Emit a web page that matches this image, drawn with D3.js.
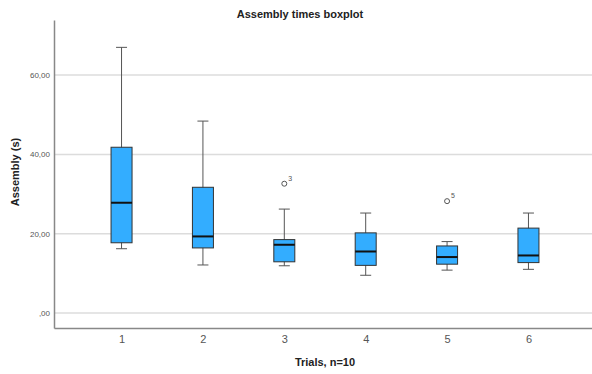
<!DOCTYPE html>
<html>
<head>
<meta charset="utf-8">
<script src="https://cdn.jsdelivr.net/npm/d3@7"></script>
<style>
  body { margin: 0; background: #fff; }
  text { font-family: Arial, "Liberation Sans", sans-serif; }
</style>
</head>
<body>
<div id="svg-area"></div>
<script>
// Box stats, one entry per trial
var trials = ["1", "2", "3", "4", "5", "6"];
var whiskerLow = [16.2, 12.1, 11.9, 9.5, 10.8, 11.0];
var q1 = [17.7, 16.4, 12.9, 12.0, 12.3, 12.7];
var median = [27.8, 19.3, 17.2, 15.5, 14.1, 14.5];
var q3 = [41.8, 31.7, 18.5, 20.2, 16.9, 21.4];
var whiskerHigh = [67.0, 48.4, 26.2, 25.2, 18.0, 25.2];

// outliers: trial, value, case label
var outlierTrial = ["3", "5"];
var outlierValue = [32.6, 28.2];
var outlierLabel = ["3", "5"];

var yTicks = [0, 20, 40, 60];

var svgWidth = 592;
var svgHeight = 374;

var chartMargin = { top: 20, right: -4, bottom: 46, left: 54 };
var chartWidth = svgWidth - chartMargin.left - chartMargin.right;
var chartHeight = svgHeight - chartMargin.top - chartMargin.bottom;

var svg = d3.select("#svg-area")
  .append("svg")
  .attr("width", svgWidth)
  .attr("height", svgHeight);

var chartGroup = svg.append("g")
  .attr("transform", `translate(${chartMargin.left}, ${chartMargin.top})`);

var xScale = d3.scalePoint()
  .domain(trials)
  .range([0, chartWidth])
  .padding(0.83);

// zero sits at y=313, 60 at y=75
var yScale = d3.scaleLinear()
  .domain([-3.8, 73.9])
  .range([chartHeight, 0]);

// gridlines
chartGroup.selectAll(".grid")
  .data(yTicks)
  .enter()
  .append("line")
  .attr("x1", 0)
  .attr("x2", chartWidth)
  .attr("y1", d => yScale(d))
  .attr("y2", d => yScale(d))
  .attr("stroke", "#dcdcdc")
  .attr("stroke-width", 1.5);

// y axis
var leftAxis = d3.axisLeft(yScale)
  .tickValues(yTicks)
  .tickSize(0)
  .tickPadding(4)
  .tickFormat(d => d === 0 ? ",00" : d3.format(".2f")(d).replace(".", ","));

var yAxisG = chartGroup.append("g").call(leftAxis);
yAxisG.select(".domain").attr("stroke", "#888").attr("stroke-width", 1.5);
yAxisG.selectAll("text")
  .attr("fill", "#555")
  .style("font-size", "8px");

// x axis
var bottomAxis = d3.axisBottom(xScale).tickSize(0).tickPadding(7);
var xAxisG = chartGroup.append("g")
  .attr("transform", `translate(0, ${chartHeight})`)
  .call(bottomAxis);
xAxisG.select(".domain").attr("stroke", "#888").attr("stroke-width", 1.5);
xAxisG.selectAll("text")
  .attr("fill", "#555")
  .style("font-size", "11px");

var boxWidth = 21;
var capWidth = 11;

var boxes = trials.map(function(t, i) {
  return { trial: t, lo: whiskerLow[i], q1: q1[i], med: median[i], q3: q3[i], hi: whiskerHigh[i] };
});

var boxG = chartGroup.selectAll(".box")
  .data(boxes)
  .enter()
  .append("g")
  .attr("class", "box")
  .attr("transform", d => `translate(${xScale(d.trial)}, 0)`);

// whisker stems
boxG.append("line")
  .attr("x1", 0).attr("x2", 0)
  .attr("y1", d => yScale(d.hi))
  .attr("y2", d => yScale(d.lo))
  .attr("stroke", "#555")
  .attr("stroke-width", 1);

// caps
boxG.selectAll(".cap")
  .data(d => [d.lo, d.hi])
  .enter()
  .append("line")
  .attr("x1", -capWidth / 2).attr("x2", capWidth / 2)
  .attr("y1", d => yScale(d))
  .attr("y2", d => yScale(d))
  .attr("stroke", "#555")
  .attr("stroke-width", 1);

// box
boxG.append("rect")
  .attr("x", -boxWidth / 2)
  .attr("width", boxWidth)
  .attr("y", d => yScale(d.q3))
  .attr("height", d => yScale(d.q1) - yScale(d.q3))
  .attr("fill", "#33adff")
  .attr("stroke", "#333")
  .attr("stroke-width", 1);

// median
boxG.append("line")
  .attr("x1", -boxWidth / 2).attr("x2", boxWidth / 2)
  .attr("y1", d => yScale(d.med))
  .attr("y2", d => yScale(d.med))
  .attr("stroke", "#111")
  .attr("stroke-width", 2);

// outliers
var outliers = outlierTrial.map(function(t, i) {
  return { trial: t, value: outlierValue[i], label: outlierLabel[i] };
});

chartGroup.selectAll(".outlier")
  .data(outliers)
  .enter()
  .append("circle")
  .attr("cx", d => xScale(d.trial))
  .attr("cy", d => yScale(d.value))
  .attr("r", 2.5)
  .attr("fill", "none")
  .attr("stroke", "#555")
  .attr("stroke-width", 1);

chartGroup.selectAll(".outlierText")
  .data(outliers)
  .enter()
  .append("text")
  .attr("x", d => xScale(d.trial) + 4)
  .attr("y", d => yScale(d.value) - 3)
  .attr("fill", "#555")
  .style("font-size", "7px")
  .text(d => d.label);

// title
svg.append("text")
  .attr("x", 300)
  .attr("y", 18)
  .attr("text-anchor", "middle")
  .style("font-size", "11px")
  .style("font-weight", "bold")
  .attr("fill", "#222")
  .text("Assembly times boxplot");

// axis titles
svg.append("text")
  .attr("transform", "rotate(-90)")
  .attr("x", -172)
  .attr("y", 19)
  .attr("text-anchor", "middle")
  .style("font-size", "11px")
  .style("font-weight", "bold")
  .attr("fill", "#222")
  .text("Assembly (s)");

svg.append("text")
  .attr("x", 325)
  .attr("y", 366)
  .attr("text-anchor", "middle")
  .style("font-size", "11px")
  .style("font-weight", "bold")
  .attr("fill", "#222")
  .text("Trials, n=10");
</script>
</body>
</html>
